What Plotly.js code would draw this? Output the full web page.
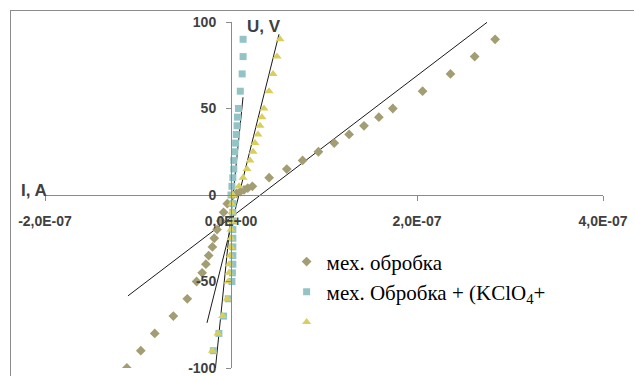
<!DOCTYPE html>
<html>
<head>
<meta charset="utf-8">
<script src="https://cdn.plot.ly/plotly-3.0.1.min.js"></script>
<style>
  html, body { margin: 0; padding: 0; background: #ffffff; }
  #wrap { position: relative; width: 634px; height: 376px; overflow: hidden; }
  #frame { position: absolute; left: 10px; top: 10px; width: 640px; height: 400px; border: 1px solid #8c8c8c; box-sizing: border-box; }
  #chart { position: absolute; left: 0; top: 0; width: 634px; height: 376px; }
</style>
</head>
<body>
<div id="wrap">
  <div id="frame"></div>
  <div id="chart"></div>
</div>
<script>
// Series 1: "мех. обробка" (diamonds)
const mechX = [2.84e-7, 2.62e-7, 2.36e-7, 2.06e-7, 1.74e-7, 1.59e-7, 1.43e-7, 1.27e-7, 1.11e-7, 0.94e-7,
               0.77e-7, 0.60e-7, 0.41e-7, 0.23e-7, 0.18e-7, 0.14e-7, 0.10e-7, 0.06e-7, 0.02e-7,
               -0.04e-7, -0.08e-7, -0.11e-7, -0.15e-7, -0.18e-7, -0.20e-7, -0.24e-7, -0.27e-7, -0.31e-7, -0.37e-7,
               -0.47e-7, -0.62e-7, -0.82e-7, -0.97e-7, -1.12e-7];
const mechY = [90, 80, 70, 60, 50, 45, 40, 35, 30, 25,
               20, 15, 10, 5, 4, 3, 2, 1, 0,
               -5, -10, -15, -20, -25, -30, -35, -40, -45, -50,
               -60, -70, -80, -90, -100];

// Series 2: "мех. Обробка + (KClO4+" (squares)
const kclX = [0.13e-7, 0.13e-7, 0.12e-7, 0.10e-7, 0.08e-7, 0.07e-7, 0.065e-7, 0.057e-7, 0.05e-7, 0.04e-7,
              0.03e-7, 0.03e-7, 0.02e-7, 0.01e-7, 0.0,
              0.02e-7, 0.02e-7, 0.02e-7, 0.02e-7, 0.02e-7, 0.02e-7, 0.02e-7, 0.02e-7, 0.015e-7, 0.01e-7,
              -0.03e-7, -0.08e-7, -0.13e-7, -0.19e-7];
const kclY = [90, 80, 70, 60, 50, 45, 40, 35, 30, 25,
              20, 15, 10, 5, 0,
              -5, -10, -15, -20, -25, -30, -35, -40, -45, -50,
              -60, -70, -80, -90];

// Series 3 (triangles)
const triX = [0.527e-7, 0.495e-7, 0.452e-7, 0.409e-7, 0.355e-7, 0.333e-7, 0.312e-7, 0.29e-7, 0.258e-7, 0.237e-7,
              0.204e-7, 0.172e-7, 0.129e-7, 0.086e-7, 0.02e-7,
              0.01e-7, 0.01e-7, 0.01e-7, 0.0, 0.0, 0.0, -0.01e-7, -0.02e-7, -0.02e-7, -0.03e-7,
              -0.04e-7, -0.09e-7, -0.14e-7, -0.20e-7];
const triY = [90, 80, 70, 60, 50, 45, 40, 35, 30, 25,
              20, 15, 10, 5, 0,
              -5, -10, -15, -20, -25, -30, -35, -40, -45, -50,
              -60, -70, -80, -90];

// Linear trend lines (end points)
const trendMechX = [-1.108e-7, 2.753e-7];
const trendMechY = [-58.3, 99.8];
const trendKclX = [-0.172e-7, 0.129e-7];
const trendKclY = [-102.7, 56.5];
const trendTriX = [-0.258e-7, 0.516e-7];
const trendTriY = [-73.9, 92.9];

const seriesNames = ["мех. обробка", "мех. Обробка + (KClO<sub>4</sub>+", " "];
const xTickVals = [-2e-7, 0, 2e-7, 4e-7];
const xTickText = ["-2,0E-07", "0,0E+00", "2,0E-07", "4,0E-07"];
const yTickVals = [-100, -50, 0, 50, 100];
const yTickText = ["-100", "-50", "0", "50", "100"];

const tickFont = { family: "Liberation Sans, Arial, sans-serif", size: 14, color: "#404040", weight: "bold" };
const axisColor = "#8a8a8a";

const traces = [
  { x: trendMechX, y: trendMechY, mode: "lines", line: { color: "#1a1a1a", width: 1 }, showlegend: false, hoverinfo: "skip" },
  { x: trendKclX, y: trendKclY, mode: "lines", line: { color: "#1a1a1a", width: 1 }, showlegend: false, hoverinfo: "skip" },
  { x: trendTriX, y: trendTriY, mode: "lines", line: { color: "#1a1a1a", width: 1 }, showlegend: false, hoverinfo: "skip" },
  { x: mechX, y: mechY, name: seriesNames[0], mode: "markers", type: "scatter",
    marker: { symbol: "diamond", size: 7.5, color: "#a39d73" } },
  { x: kclX, y: kclY, name: seriesNames[1], mode: "markers", type: "scatter",
    marker: { symbol: "square", size: 7, color: "#93c3c5" } },
  { x: triX, y: triY, name: seriesNames[2], mode: "markers", type: "scatter",
    marker: { symbol: "triangle-up", size: 8, color: "#d8cf5c" } }
];

const layout = {
  width: 634, height: 376,
  margin: { l: 45, r: 31, t: 22, b: 8 },
  paper_bgcolor: "rgba(0,0,0,0)",
  plot_bgcolor: "rgba(0,0,0,0)",
  showlegend: true,
  legend: {
    x: 0.433, y: 0.366, xanchor: "left", yanchor: "top",
    bgcolor: "rgba(0,0,0,0)",
    font: { family: "Liberation Serif, Times New Roman, serif", size: 21, color: "#000000" },
    tracegroupgap: 0
  },
  xaxis: {
    range: [-2e-7, 4e-7], anchor: "free", position: 0.5,
    tickvals: xTickVals, ticktext: xTickText,
    showgrid: false, zeroline: false,
    showline: true, linecolor: axisColor, linewidth: 1,
    ticks: "outside", ticklen: 5, tickcolor: axisColor,
    tickfont: tickFont, ticklabelstandoff: 8
  },
  yaxis: {
    range: [-100, 100], anchor: "free", position: 1/3, side: "left",
    tickvals: yTickVals, ticktext: yTickText,
    showgrid: false, zeroline: false,
    showline: true, linecolor: axisColor, linewidth: 1,
    ticks: "outside", ticklen: 5, tickcolor: axisColor,
    tickfont: tickFont, ticklabelstandoff: 7
  },
  annotations: [
    { text: "I, A", xref: "paper", yref: "paper", x: -0.047, y: 0.512, xanchor: "left", yanchor: "middle",
      showarrow: false, font: { family: "Liberation Sans, Arial, sans-serif", size: 17, color: "#404040", weight: "bold" } },
    { text: "U, V", xref: "paper", yref: "paper", x: 0.358, y: 0.986, xanchor: "left", yanchor: "middle",
      showarrow: false, font: { family: "Liberation Sans, Arial, sans-serif", size: 17, color: "#404040", weight: "bold" } }
  ]
};

Plotly.newPlot("chart", traces, layout, { displayModeBar: false, staticPlot: true });
</script>
</body>
</html>
